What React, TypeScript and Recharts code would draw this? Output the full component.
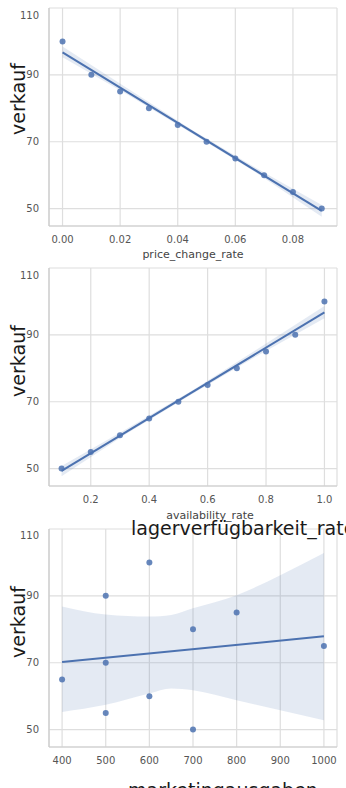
import React from "react";
import {
  ComposedChart,
  XAxis,
  YAxis,
  CartesianGrid,
  Scatter,
  Line,
  Area,
  Customized,
} from "recharts";

// ---------- data ----------
const priceChangeRate = [0, 0.01, 0.02, 0.03, 0.04, 0.05, 0.06, 0.07, 0.08, 0.09];
const verkaufPrice = [100, 90, 85, 80, 75, 70, 65, 60, 55, 50];

const availabilityRate = [0.1, 0.2, 0.3, 0.4, 0.5, 0.6, 0.7, 0.8, 0.9, 1.0];
const verkaufAvail = [50, 55, 60, 65, 70, 75, 80, 85, 90, 100];

const marketingAusgaben = [600, 500, 800, 700, 1000, 500, 400, 600, 500, 700];
const verkaufMarketing = [100, 90, 85, 80, 75, 70, 65, 60, 55, 50];

// regression lines
const priceFitX = [0, 0.09];
const priceFitY = [96.7, 49.3];
const availFitX = [0.1, 1.0];
const availFitY = [49.3, 96.7];
const marketingFitX = [400, 1000];
const marketingFitY = [70.2, 77.9];

// confidence bands
const priceBandX = [0, 0.0225, 0.045, 0.0675, 0.09];
const priceBandLow = [95.3, 84.1, 72.5, 60.6, 47.6];
const priceBandHigh = [98.5, 86.0, 73.5, 62.0, 51.1];

const availBandX = [0.1, 0.325, 0.55, 0.775, 1.0];
const availBandLow = [47.7, 60.6, 72.5, 84.0, 95.0];
const availBandHigh = [50.8, 62.0, 73.5, 86.0, 98.6];

const marketingBandX = [400, 500, 600, 650, 700, 800, 900, 1000];
const marketingBandLow = [55.3, 57.4, 60.8, 62.3, 61.8, 58.8, 55.8, 52.8];
const marketingBandHigh = [86.8, 84.4, 83.8, 84.3, 86.3, 90.2, 96.2, 102.8];

// ticks
const yTicks = [50, 70, 90, 110];
const priceTicks = [0, 0.02, 0.04, 0.06, 0.08];
const availTicks = [0.2, 0.4, 0.6, 0.8, 1.0];
const marketingTicks = [400, 500, 600, 700, 800, 900, 1000];

// ---------- helpers ----------
const FONT = "DejaVu Sans";
const BLUE = "#4C72B0";
const PLOT_H = 218;

const pts = (xs: number[], ys: number[]) => xs.map((x, i) => ({ x, y: ys[i] }));
const band = (xs: number[], lo: number[], hi: number[]) =>
  xs.map((x, i) => ({ x, range: [lo[i], hi[i]] }));

const YTick = (props: any) => {
  const { x, y, payload } = props;
  const shift = payload.value === 110 ? 6 : 0;
  return (
    <text
      x={x}
      y={y + shift}
      dy="0.36em"
      textAnchor="end"
      fontFamily={FONT}
      fontSize={10}
      fill="#555"
    >
      {payload.value}
    </text>
  );
};

const makeXTick = (fmt: (v: number) => string) => (props: any) => {
  const { x, y, payload } = props;
  return (
    <text
      x={x}
      y={y}
      dy="0.71em"
      textAnchor="middle"
      fontFamily={FONT}
      fontSize={10}
      fill="#555"
    >
      {fmt(payload.value)}
    </text>
  );
};

const Dot = (props: any) => {
  const { cx, cy } = props;
  if (cx == null || cy == null) return null;
  return <circle cx={cx} cy={cy} r={3} fill={BLUE} fillOpacity={0.85} />;
};

type PanelProps = {
  top: number;
  height: number;
  marginTop: number;
  xDomain: [number, number];
  xTicks: number[];
  fmt: (v: number) => string;
  scatter: { x: number; y: number }[];
  fit: { x: number; y: number }[];
  bandData: { x: number; range: number[] }[];
  curve: "linear" | "monotone";
  yLabelY: number;
  texts: React.ReactNode;
};

const Panel = (p: PanelProps) => {
  const xAxisH = p.height - p.marginTop - PLOT_H;
  return (
    <div style={{ position: "absolute", left: 0, top: p.top }}>
      <ComposedChart
        width={346}
        height={p.height}
        margin={{ top: p.marginTop, right: 9, bottom: 0, left: 0 }}
      >
        <CartesianGrid stroke="#dedede" strokeWidth={1.2} />
        <XAxis
          type="number"
          dataKey="x"
          domain={p.xDomain}
          ticks={p.xTicks}
          allowDataOverflow
          axisLine={{ stroke: "#cccccc", strokeWidth: 1.2 }}
          tickLine={false}
          tickSize={0}
          tickMargin={10}
          height={xAxisH}
          tick={makeXTick(p.fmt)}
        />
        <YAxis
          type="number"
          domain={[44.8, 110]}
          ticks={yTicks}
          allowDataOverflow
          width={49}
          axisLine={{ stroke: "#cccccc", strokeWidth: 1.2 }}
          tickLine={false}
          tickSize={0}
          tickMargin={10}
          tick={<YTick />}
        />
        <Area
          data={p.bandData}
          dataKey="range"
          type={p.curve}
          stroke="none"
          fill={BLUE}
          fillOpacity={0.15}
          isAnimationActive={false}
          dot={false}
          activeDot={false}
        />
        <Scatter data={p.scatter} dataKey="y" shape={<Dot />} isAnimationActive={false} />
        <Line
          data={p.fit}
          dataKey="y"
          type="linear"
          stroke={BLUE}
          strokeWidth={2}
          dot={false}
          activeDot={false}
          isAnimationActive={false}
        />
        <Customized
          component={() => (
            <g>
              <text
                x={24.5}
                y={p.yLabelY}
                transform={`rotate(-90 24.5 ${p.yLabelY})`}
                textAnchor="middle"
                fontFamily={FONT}
                fontSize={19}
                fill="#1a1a1a"
              >
                verkauf
              </text>
              {p.texts}
            </g>
          )}
        />
      </ComposedChart>
    </div>
  );
};

export default function App() {
  return (
    <div
      style={{
        position: "absolute",
        left: 0,
        top: 0,
        width: 346,
        height: 788,
        overflow: "hidden",
        background: "#fff",
      }}
    >
      <Panel
        top={0}
        height={265}
        marginTop={8}
        xDomain={[-0.0047, 0.0953]}
        xTicks={priceTicks}
        fmt={(v) => v.toFixed(2)}
        scatter={pts(priceChangeRate, verkaufPrice)}
        fit={pts(priceFitX, priceFitY)}
        bandData={band(priceBandX, priceBandLow, priceBandHigh)}
        curve="linear"
        yLabelY={99}
        texts={
          <text x={193} y={258} textAnchor="middle" fontFamily={FONT} fontSize={11} fill="#444">
            price_change_rate
          </text>
        }
      />
      <Panel
        top={260}
        height={265}
        marginTop={8}
        xDomain={[0.057, 1.043]}
        xTicks={availTicks}
        fmt={(v) => v.toFixed(1)}
        scatter={pts(availabilityRate, verkaufAvail)}
        fit={pts(availFitX, availFitY)}
        bandData={band(availBandX, availBandLow, availBandHigh)}
        curve="linear"
        yLabelY={101}
        texts={
          <text x={210} y={259} textAnchor="middle" fontFamily={FONT} fontSize={11} fill="#444">
            availability_rate
          </text>
        }
      />
      <Panel
        top={500}
        height={288}
        marginTop={29}
        xDomain={[370, 1030]}
        xTicks={marketingTicks}
        fmt={(v) => String(v)}
        scatter={pts(marketingAusgaben, verkaufMarketing)}
        fit={pts(marketingFitX, marketingFitY)}
        bandData={band(marketingBandX, marketingBandLow, marketingBandHigh)}
        curve="monotone"
        yLabelY={122}
        texts={
          <>
            <text x={131} y={35} fontFamily={FONT} fontSize={19} fill="#1a1a1a">
              lagerverfügbarkeit_rate
            </text>
            <text x={128} y={297} fontFamily={FONT} fontSize={19} fill="#1a1a1a">
              marketingausgaben
            </text>
          </>
        }
      />
    </div>
  );
}
